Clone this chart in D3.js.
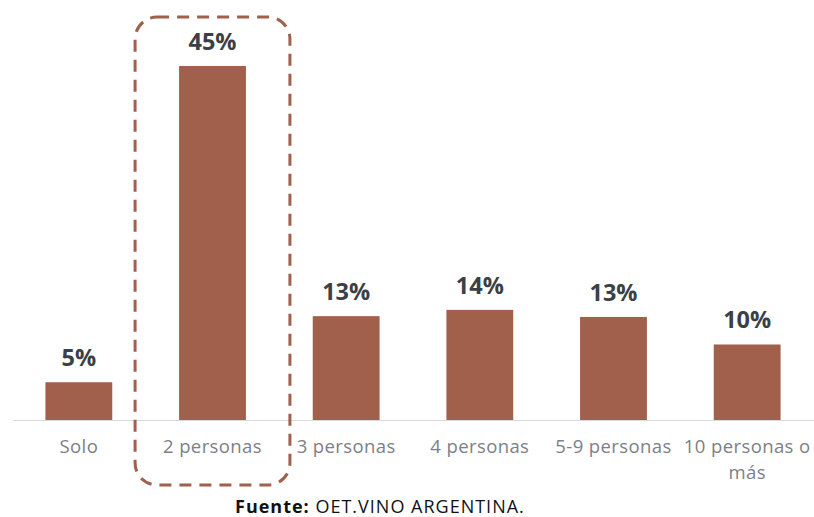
<!DOCTYPE html>
<html><head><meta charset="utf-8">
<script src="https://cdn.jsdelivr.net/npm/d3@7"></script>
<style>body{margin:0;background:#fff}svg{display:block}</style>
</head><body><svg id="c" width="814" height="517"></svg>
<script>
const categories = ["Solo", "2 personas", "3 personas", "4 personas", "5-9 personas", "10 personas o más"];
const values = [4.8, 45, 13.2, 14.0, 13.1, 9.6];
const valueLabels = ["5%", "45%", "13%", "14%", "13%", "10%"];
const highlighted = "2 personas";
const sourceBold = "Fuente:";
const sourceText = " OET.VINO ARGENTINA.";

const W = 814, H = 517;
const baseY = 420;
const svg = d3.select("#c");
const x = d3.scaleBand().domain(categories).range([12, 814]).paddingInner(0.5).paddingOuter(0.25);
const y = d3.scaleLinear().domain([0, 45]).range([baseY, 66]);
const barColor = "#A0604B";

// axis line
svg.append("line").attr("x1", 13).attr("x2", 814).attr("y1", baseY + 0.5).attr("y2", baseY + 0.5)
  .attr("stroke", "#d9d9d9").attr("stroke-width", 1);

svg.selectAll("rect.bar").data(categories).join("rect").attr("class", "bar")
  .attr("x", d => x(d)).attr("width", x.bandwidth())
  .attr("y", (d, i) => y(values[i])).attr("height", (d, i) => baseY - y(values[i]))
  .attr("fill", barColor);

svg.selectAll("text.val").data(categories).join("text").attr("class", "val")
  .attr("x", d => x(d) + x.bandwidth() / 2)
  .attr("y", (d, i) => y(values[i]) - 16)
  .attr("text-anchor", "middle")
  .attr("font-family", "Open Sans").attr("font-weight", "bold").attr("font-size", 23.5)
  .attr("fill", "#3b3f46")
  .text((d, i) => valueLabels[i]);

// category labels with wrapping
categories.forEach(c => {
  const cx = x(c) + x.bandwidth() / 2;
  const lines = c === "10 personas o más" ? ["10 personas o", "más"] : [c];
  lines.forEach((ln, j) => {
    const t = svg.append("text").attr("x", cx).attr("y", 453 + j * 26)
      .attr("text-anchor", "middle")
      .attr("font-family", "Open Sans").attr("font-size", 18.5).attr("letter-spacing", 0.4)
      .attr("fill", "#7c8087")
      .text(ln);
    const bb = t.node().getBBox();
    if (bb.x + bb.width > W - 1) t.attr("x", cx - (bb.x + bb.width - (W - 1)));
  });
});

// dashed highlight box
const hx = x(highlighted);
svg.append("rect")
  .attr("x", hx - 44).attr("y", 17)
  .attr("width", x.bandwidth() + 88).attr("height", 468)
  .attr("rx", 22).attr("ry", 22)
  .attr("fill", "none").attr("stroke", "#A0604B").attr("stroke-width", 3)
  .attr("stroke-dasharray", "12 8");

// source
const src = svg.append("text").attr("x", 235).attr("y", 513)
  .attr("font-family", "Open Sans").attr("font-size", 18).attr("letter-spacing", 1).attr("fill", "#111");
src.append("tspan").attr("font-weight", "bold").text(sourceBold);
src.append("tspan").text(sourceText);
</script></body></html>
